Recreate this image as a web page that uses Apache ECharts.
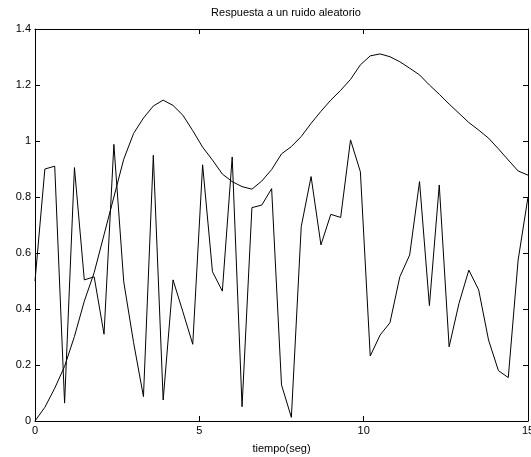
<!DOCTYPE html>
<html>
<head>
<meta charset="utf-8">
<script src="https://cdn.jsdelivr.net/npm/echarts@6/dist/echarts.min.js"></script>
<style>
html,body{margin:0;padding:0;background:#fff;}
#chart{width:531px;height:457px;}
</style>
</head>
<body>
<div id="chart"></div>
<script>
var titleText = 'Respuesta a un ruido aleatorio';
var xLabel = 'tiempo(seg)';
var tiempo = [0,0.3,0.6,0.9,1.2,1.5,1.8,2.1,2.4,2.7,3.0,3.3,3.6,3.9,4.2,4.5,4.8,5.1,5.4,5.7,6.0,6.3,6.6,6.9,7.2,7.5,7.8,8.1,8.4,8.7,9.0,9.3,9.6,9.9,10.2,10.5,10.8,11.1,11.4,11.7,12.0,12.3,12.6,12.9,13.2,13.5,13.8,14.1,14.4,14.7,15.0];
var ruido = [0.50,0.90,0.91,0.064,0.905,0.504,0.515,0.31,0.988,0.497,0.28,0.087,0.949,0.075,0.504,0.39,0.274,0.915,0.533,0.464,0.943,0.051,0.762,0.771,0.83,0.129,0.013,0.694,0.873,0.629,0.738,0.727,1.004,0.89,0.232,0.307,0.351,0.515,0.593,0.855,0.412,0.843,0.265,0.42,0.539,0.468,0.289,0.18,0.155,0.575,0.80];
var respuesta = [0,0.049,0.117,0.195,0.302,0.428,0.53,0.665,0.80,0.935,1.027,1.082,1.125,1.146,1.127,1.092,1.037,0.978,0.932,0.882,0.855,0.837,0.828,0.857,0.898,0.954,0.98,1.016,1.063,1.106,1.146,1.181,1.22,1.272,1.304,1.311,1.301,1.283,1.26,1.236,1.2,1.167,1.132,1.099,1.066,1.039,1.01,0.972,0.932,0.893,0.878];
var xTicks = [0,5,10,15];
var yTicks = [0,0.2,0.4,0.6,0.8,1,1.2,1.4];

function pairs(xs, ys){ return xs.map(function(x,i){ return [x, ys[i]]; }); }

var font = 'Liberation Sans, Arial, Helvetica, sans-serif';
function axisCommon(){
  return {
    type:'value',
    axisLine:{show:true, onZero:false, lineStyle:{color:'#000', width:1}},
    axisTick:{show:true, inside:true, length:5, lineStyle:{color:'#000', width:1}},
    splitLine:{show:false}
  };
}
var chart = echarts.init(document.getElementById('chart'), null, {renderer:'canvas'});
chart.setOption({
  animation:false,
  backgroundColor:'#fff',
  title:{text:titleText, left:281, top:2, textAlign:'center',
    textStyle:{fontFamily:font, fontSize:11, fontWeight:'normal', color:'#000'}},
  grid:{left:35, right:3, top:29, bottom:36, outerBoundsMode:'none', containLabel:false},
  xAxis:[
    Object.assign(axisCommon(), {position:'bottom', min:xTicks[0], max:xTicks[xTicks.length-1], interval:5,
      name:xLabel, nameLocation:'middle', nameGap:22,
      nameTextStyle:{fontFamily:font, fontSize:11, color:'#000'},
      axisLabel:{fontFamily:font, fontSize:11, color:'#000', margin:4, showMaxLabel:true}}),
    Object.assign(axisCommon(), {position:'top', min:xTicks[0], max:xTicks[xTicks.length-1], interval:5,
      axisLabel:{show:false}})
  ],
  yAxis:[
    Object.assign(axisCommon(), {position:'left', min:yTicks[0], max:yTicks[yTicks.length-1], interval:0.2,
      axisLabel:{fontFamily:font, fontSize:11, color:'#000', margin:4}}),
    Object.assign(axisCommon(), {position:'right', min:yTicks[0], max:yTicks[yTicks.length-1], interval:0.2,
      axisLabel:{show:false}})
  ],
  series:[
    {type:'line', data:pairs(tiempo, ruido), showSymbol:false, symbol:'none',
      lineStyle:{color:'#000', width:1}, xAxisIndex:0, yAxisIndex:0},
    {type:'line', data:pairs(tiempo, respuesta), showSymbol:false, symbol:'none',
      lineStyle:{color:'#000', width:1}, xAxisIndex:0, yAxisIndex:0}
  ]
});
</script>
</body>
</html>
